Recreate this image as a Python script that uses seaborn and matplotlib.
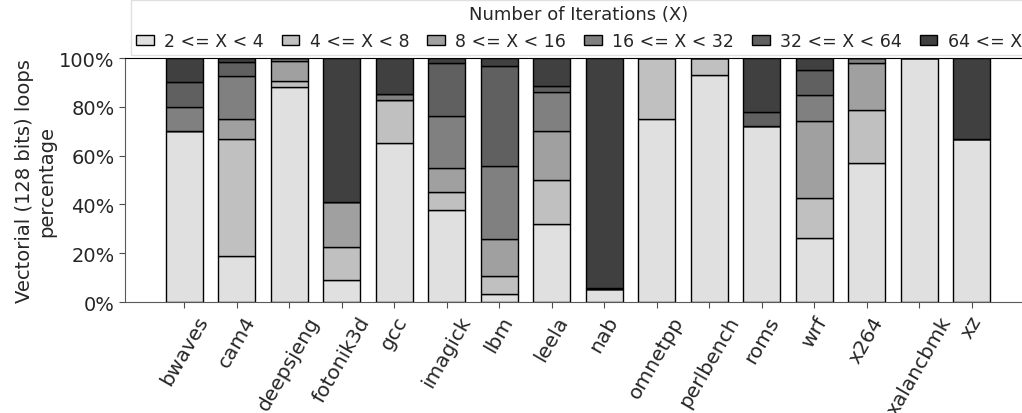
import numpy as np
import pandas as pd
import matplotlib
matplotlib.use("Agg")
import matplotlib.pyplot as plt
from matplotlib.patches import Patch
from matplotlib.ticker import PercentFormatter
import seaborn as sns

benchmarks = ["bwaves", "cam4", "deepsjeng", "fotonik3d", "gcc", "imagick", "lbm",
              "leela", "nab", "omnetpp", "perlbench", "roms", "wrf", "x264",
              "xalancbmk", "xz"]
ranges = ["2 <= X < 4", "4 <= X < 8", "8 <= X < 16", "16 <= X < 32",
          "32 <= X < 64", "64 <= X"]
r_2_4 = [70.0, 19.0, 88.3, 9.0, 65.2, 37.8, 3.3, 32.0, 5.3, 75.0, 93.0, 72.3, 26.1, 57.0, 100.0, 66.8]
r_4_8 = [0.0, 47.8, 2.4, 13.7, 17.6, 7.4, 7.5, 18.0, 0.0, 25.0, 7.0, 0.0, 16.7, 21.7, 0.0, 0.0]
r_8_16 = [0.0, 8.2, 8.2, 18.1, 0.0, 9.7, 15.0, 20.1, 0.0, 0.0, 0.0, 0.0, 31.3, 19.3, 0.0, 0.0]
r_16_32 = [10.0, 17.8, 1.1, 0.0, 2.4, 21.5, 29.8, 16.1, 0.0, 0.0, 0.0, 0.0, 10.9, 2.0, 0.0, 0.0]
r_32_64 = [10.0, 5.7, 0.0, 0.0, 0.0, 21.5, 41.0, 2.2, 0.6, 0.0, 0.0, 5.7, 10.2, 0.0, 0.0, 0.0]
r_64 = [10.0, 1.5, 0.0, 59.2, 14.8, 2.1, 3.4, 11.6, 94.1, 0.0, 0.0, 22.0, 4.8, 0.0, 0.0, 33.2]
colors = ["#e0e0e0", "#c0c0c0", "#a0a0a0", "#808080", "#606060", "#404040"]

series = [r_2_4, r_4_8, r_8_16, r_16_32, r_32_64, r_64]
rows = []
for rng, vals in zip(ranges, series):
    for i, (b, v) in enumerate(zip(benchmarks, vals)):
        rows.append({"pos": i, "bench": b, "range": rng, "value": v})
df = pd.DataFrame(rows)

sns.set_style("ticks")
plt.rcParams["font.family"] = ["DejaVu Sans"]

fig = plt.figure(figsize=(10.22, 4.14), dpi=100)
ax = fig.add_axes([0.1223, 0.268, 0.8865, 0.5894])

pal = dict(zip(ranges, colors))
# seaborn stacks first hue level on top -> pass reversed order
sns.histplot(data=df, x="pos", weights="value", hue="range",
             hue_order=ranges[::-1], palette=pal, multiple="stack",
             discrete=True, shrink=0.7, edgecolor="black", linewidth=1.0,
             alpha=1.0, legend=False, ax=ax)

ax.set_xlim(-1.129, 16.13)
ax.set_ylim(0, 100)
ax.yaxis.set_major_formatter(PercentFormatter(100, decimals=0))
ax.set_yticks([0, 20, 40, 60, 80, 100])
ax.set_xticks(range(len(benchmarks)))
ax.set_xticklabels(benchmarks, rotation=60, ha="center", fontsize=14.5)
ax.tick_params(axis="y", labelsize=14, length=4, color="0.3")
ax.tick_params(axis="x", length=4, color="0.3")
ax.set_xlabel("")
ax.set_ylabel("Vectorial (128 bits) loops\npercentage", fontsize=14, labelpad=2)
for s in ["left", "bottom"]:
    ax.spines[s].set_color("0.35")
ax.spines["top"].set_color("black")
ax.spines["right"].set_visible(False)

handles = [Patch(facecolor=c, edgecolor="black", linewidth=1.0) for c in colors]
leg = fig.legend(handles, ranges, title="Number of Iterations (X)", ncol=6,
                 loc="lower center", bbox_to_anchor=(579 / 1022, 1 - 56 / 414),
                 fontsize=12.5, title_fontsize=13, handlelength=1.0,
                 handleheight=0.5, handletextpad=0.6, columnspacing=1.05,
                 frameon=True, fancybox=False, borderpad=0.3, borderaxespad=0)
leg.get_frame().set_edgecolor("0.85")
leg.get_frame().set_linewidth(1.0)

fig.savefig("out.png", dpi=100)
